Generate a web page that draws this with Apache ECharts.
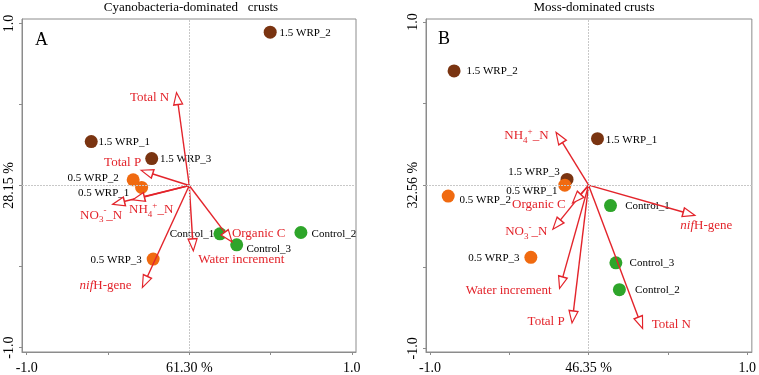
<!DOCTYPE html>
<html>
<head>
<meta charset="utf-8">
<script src="https://cdn.jsdelivr.net/npm/echarts@6/dist/echarts.min.js"></script>
<style>
  html, body { margin: 0; padding: 0; background: #fff; }
  #main { width: 759px; height: 375px; }
</style>
</head>
<body>
<div id="main"></div>
<script>
// samples
const sampleNames = ['1.5 WRP_1', '1.5 WRP_2', '1.5 WRP_3', '0.5 WRP_1', '0.5 WRP_2', '0.5 WRP_3', 'Control_1', 'Control_2', 'Control_3'];
const sampleGroups = ['1.5 WRP', '1.5 WRP', '1.5 WRP', '0.5 WRP', '0.5 WRP', '0.5 WRP', 'Control', 'Control', 'Control'];
const cyanoSampleX = [-0.603, 0.498, -0.231, -0.293, -0.345, -0.222, 0.189, 0.687, 0.292];
const cyanoSampleY = [0.271, 0.946, 0.166, -0.012, 0.035, -0.454, -0.298, -0.290, -0.366];
const mossSampleX = [0.056, -0.848, -0.136, -0.150, -0.885, -0.364, 0.138, 0.194, 0.172];
const mossSampleY = [0.285, 0.700, 0.035, 0.000, -0.067, -0.442, -0.125, -0.640, -0.476];

// environmental variables (arrows)
const envNames = ['Total N', 'Total P', 'NO3-_N', 'NH4+_N', 'nifH-gene', 'Water increment', 'Organic C'];
const cyanoEnvX = [-0.078, -0.293, -0.468, -0.345, -0.287, 0.025, 0.261];
const cyanoEnvY = [0.570, 0.093, -0.115, -0.088, -0.626, -0.400, -0.345];
const mossEnvX = [0.339, -0.104, -0.223, -0.203, 0.666, -0.182, -0.099];
const mossEnvY = [-0.875, -0.841, -0.268, 0.321, -0.184, -0.630, -0.108];

// axis text
const panelTitles = ['Cyanobacteria-dominated   crusts', 'Moss-dominated crusts'];
const panelLetters = ['A', 'B'];
const xAxisCenter = ['61.30 %', '46.35 %'];
const yAxisCenter = ['28.15 %', '32.56 %'];

const groupColors = { '1.5 WRP': '#7a3411', '0.5 WRP': '#f06a10', 'Control': '#2ea52a' };
const RED = '#e3242b';
const SERIF = '"Liberation Serif", "DejaVu Serif", serif';

// label placement (pixel offsets of label centre from the point)
const cyanoSampleLbl = {
  '1.5 WRP_1': [33, 1], '1.5 WRP_2': [35, 1], '1.5 WRP_3': [34, 1],
  '0.5 WRP_1': [-38, 6], '0.5 WRP_2': [-40, -2], '0.5 WRP_3': [-37, 1],
  'Control_1': [-28, 0], 'Control_2': [33, 2], 'Control_3': [32, 4]
};
const mossSampleLbl = {
  '1.5 WRP_1': [34, 1], '1.5 WRP_2': [38, 0], '1.5 WRP_3': [-33, -7],
  '0.5 WRP_1': [-33, 6], '0.5 WRP_2': [37, 4], '0.5 WRP_3': [-37, 1],
  'Control_1': [37, 1], 'Control_2': [38, 0], 'Control_3': [36, 0]
};
const cyanoEnvLbl = {
  'Total N': [-27, 4], 'Total P': [-19, -8], 'NO3-_N': [-12, 11], 'NH4+_N': [18, 10],
  'nifH-gene': [-37, -1], 'Water increment': [48, 9], 'Organic C': [27, -8]
};
const mossEnvLbl = {
  'Total N': [29, -3], 'Total P': [-26, -1], 'NO3-_N': [-27, 3], 'NH4+_N': [-30, 3],
  'nifH-gene': [12, 10], 'Water increment': [-51, 3], 'Organic C': [-34, 2]
};

function envText(name) {
  if (name === 'NO3-_N') return '{t|NO}{sub|3}{sup|-}{t|_N}';
  if (name === 'NH4+_N') return '{t|NH}{sub|4}{sup|+}{t|_N}';
  if (name === 'nifH-gene') return '{it|nif}{t|H-gene}';
  return '{t|' + name + '}';
}

const envRich = {
  t: { fontFamily: SERIF, fontSize: 13, color: RED, lineHeight: 18 },
  it: { fontFamily: SERIF, fontSize: 13, color: RED, lineHeight: 18, fontStyle: 'italic' },
  sub: { fontFamily: SERIF, fontSize: 9, color: RED, lineHeight: 9, verticalAlign: 'bottom' },
  sup: { fontFamily: SERIF, fontSize: 9, color: RED, lineHeight: 9, verticalAlign: 'top' }
};

const grids = [
  { left: 22, top: 19, width: 334, height: 333 },
  { left: 426, top: 19, width: 331, height: 333 }
];
const xRanges = [[-1.029, 1.026], [-1.025, 1.029]];
const yRanges = [[-1.027, 1.027], [-1.022, 1.018]];

function makeAxes(idx) {
  const common = {
    gridIndex: idx,
    type: 'value',
    axisLine: { show: true, onZero: false, lineStyle: { color: '#8c8c8c', width: 1 } },
    axisTick: { show: true, inside: false, length: 3, customValues: [-1, -0.5, 0, 0.5, 1], lineStyle: { color: '#8c8c8c' } },
    splitLine: { show: false }
  };
  const x = Object.assign({}, common, {
    min: xRanges[idx][0], max: xRanges[idx][1],
    axisLabel: {
      customValues: [-1, 0, 1], margin: 9, color: '#000', fontFamily: SERIF, fontSize: 14,
      formatter: v => v === 0 ? xAxisCenter[idx] : v.toFixed(1)
    }
  });
  const y = Object.assign({}, common, {
    min: yRanges[idx][0], max: yRanges[idx][1],
    axisLabel: {
      customValues: [-1, 0, 1], margin: 6, rotate: 90, color: '#000', fontFamily: SERIF, fontSize: 14,
      formatter: v => v === 0 ? yAxisCenter[idx] : v.toFixed(1)
    }
  });
  return [x, y];
}

function sampleSeries(idx, xs, ys, lbl) {
  return {
    type: 'scatter',
    xAxisIndex: idx, yAxisIndex: idx,
    symbolSize: 13,
    z: 3,
    data: sampleNames.map((n, i) => ({
      name: n,
      value: [xs[i], ys[i]],
      itemStyle: { color: groupColors[sampleGroups[i]], opacity: 1 },
      label: {
        show: true, position: 'inside', offset: lbl[n], formatter: n,
        color: '#000', fontFamily: SERIF, fontSize: 11
      }
    })),
    markLine: {
      silent: true, symbol: 'none', animation: false,
      lineStyle: { color: '#c8c8c8', type: [2, 1], width: 1 },
      label: { show: false },
      data: [{ xAxis: 0 }, { yAxis: 0 }]
    }
  };
}

const HEAD = 0.068; // arrowhead length in axis units

function arrowSeries(idx, xs, ys, lbl) {
  const lineData = [], headData = [], labelData = [];
  envNames.forEach((n, i) => {
    const len = Math.sqrt(xs[i] * xs[i] + ys[i] * ys[i]);
    const ux = xs[i] / len, uy = ys[i] / len;
    const ang = Math.atan2(ys[i], xs[i]) * 180 / Math.PI;
    lineData.push({ coords: [[0, 0], [xs[i] - ux * HEAD, ys[i] - uy * HEAD]] });
    headData.push({ value: [xs[i] - ux * HEAD / 2, ys[i] - uy * HEAD / 2], symbolRotate: ang - 90 });
    labelData.push({
      value: [xs[i], ys[i]],
      label: { show: true, position: 'inside', offset: lbl[n], formatter: envText(n), rich: envRich }
    });
  });
  return [
    {
      type: 'lines', coordinateSystem: 'cartesian2d', xAxisIndex: idx, yAxisIndex: idx,
      z: 4, symbol: 'none', lineStyle: { color: RED, width: 1.4, opacity: 1 },
      data: lineData, animation: false
    },
    {
      type: 'scatter', xAxisIndex: idx, yAxisIndex: idx, z: 5,
      symbol: 'triangle', symbolSize: [9, 12],
      itemStyle: { color: '#fff', borderColor: RED, borderWidth: 1.3, opacity: 1 },
      data: headData, animation: false
    },
    {
      type: 'scatter', xAxisIndex: idx, yAxisIndex: idx, z: 6,
      symbolSize: 0, itemStyle: { color: 'transparent', opacity: 1 },
      data: labelData, animation: false
    }
  ];
}

const axesA = makeAxes(0), axesB = makeAxes(1);

const option = {
  backgroundColor: '#fff',
  animation: false,
  title: [
    { text: panelTitles[0], left: 186, top: -4, textAlign: 'center', textStyle: { fontFamily: SERIF, fontSize: 13, fontWeight: 'normal', color: '#000' } },
    { text: panelTitles[1], left: 589, top: -4, textAlign: 'center', textStyle: { fontFamily: SERIF, fontSize: 13, fontWeight: 'normal', color: '#000' } },
    { text: panelLetters[0], left: 30, top: 26, textStyle: { fontFamily: SERIF, fontSize: 18, fontWeight: 'normal', color: '#000' } },
    { text: panelLetters[1], left: 433, top: 25, textStyle: { fontFamily: SERIF, fontSize: 18, fontWeight: 'normal', color: '#000' } }
  ],
  grid: grids.map(g => Object.assign({ show: true, borderColor: '#8c8c8c', borderWidth: 1, backgroundColor: 'transparent' }, g)),
  xAxis: [axesA[0], axesB[0]],
  yAxis: [axesA[1], axesB[1]],
  series: [
    sampleSeries(0, cyanoSampleX, cyanoSampleY, cyanoSampleLbl),
    ...arrowSeries(0, cyanoEnvX, cyanoEnvY, cyanoEnvLbl),
    sampleSeries(1, mossSampleX, mossSampleY, mossSampleLbl),
    ...arrowSeries(1, mossEnvX, mossEnvY, mossEnvLbl)
  ]
};

const chart = echarts.init(document.getElementById('main'), null, { renderer: 'canvas' });
chart.setOption(option);
</script>
</body>
</html>
